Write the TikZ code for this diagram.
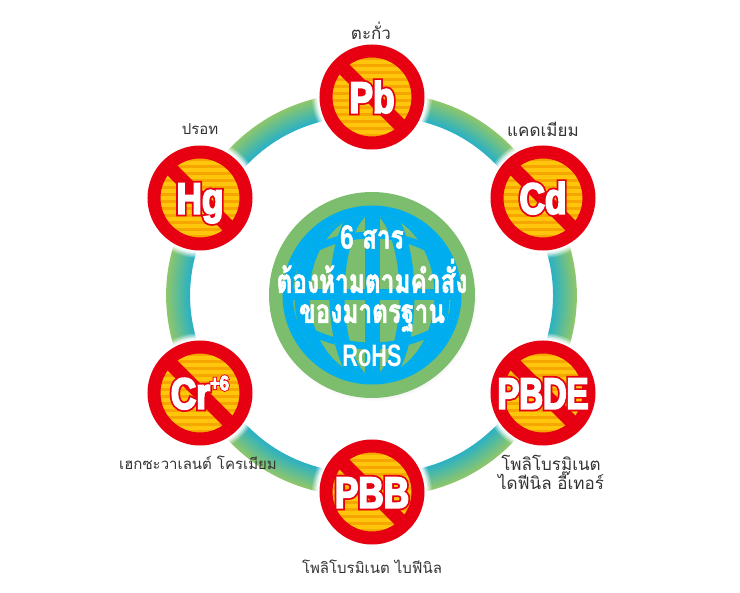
\documentclass[tikz,border=0pt]{standalone}
\usepackage{fontspec}
\usetikzlibrary{calc,shadows}
\newfontfamily\thaifont[Script=Thai]{Loma}
\newfontfamily\hubfont[Script=Thai,FakeStretch=0.74,BoldFeatures={FakeBold=1.5}]{Loma}
\newfontfamily\rohsfont[FakeStretch=0.7]{Liberation Sans}
\newfontfamily\signfont[FakeStretch=0.8,BoldFeatures={FakeBold=4}]{Liberation Sans}
\newfontfamily\signrim[FakeStretch=0.8,BoldFeatures={FakeBold=12}]{Liberation Sans}
\definecolor{banred}{HTML}{E60012}
\definecolor{banorange}{HTML}{F7A600}
\definecolor{banyellow}{HTML}{FFC60B}
\definecolor{ringgreen}{HTML}{8EC76C}
\definecolor{ringteal}{HTML}{2DB2C2}
\definecolor{globeblue}{HTML}{00AEEF}
\definecolor{globegreen}{HTML}{7DBD6E}
\definecolor{labelgrey}{HTML}{333333}
\newcommand{\signcopy}[1]{\makebox[0pt]{\raisebox{-.36em}{#1}}}
\newcommand{\rimtext}[1]{\smash{\color{banred}\signrim\bfseries\signcopy{#1}\color{white}\signfont\bfseries\signcopy{#1}}}
\tikzset{
	bansign/.style={circle,inner sep=0pt,minimum size=92,draw=banred,line width=13,
		font=\signfont\bfseries\fontsize{44}{44}\selectfont,
		preaction={draw=white,draw opacity=.2,line width=28},
		preaction={draw=white,draw opacity=.3,line width=25},
		preaction={draw=white,draw opacity=.45,line width=22},
		preaction={draw=white,draw opacity=.65,line width=19},
		preaction={draw=white,line width=16},
		path picture={
			\fill[banorange] (path picture bounding box.center) circle (50);
			\foreach \k in {-6,...,6}
				\fill[banyellow] ($(path picture bounding box.center)+(-50,\k*7-1.8)$) rectangle ++(100,3.6);
			\draw[banred,line width=14] ($(path picture bounding box.center)+(-45,-45)$) -- ($(path picture bounding box.center)+(45,45)$);
		}},
	ringline/.style={line width=1.7,bend left=30},
	gridline/.style={draw=globeblue,line width=15},
	latline/.style={draw=globeblue,line width=7},
	hubline/.style={text=white,font=\hubfont\bfseries\fontsize{33}{33}\selectfont,inner sep=0pt},
	sublabel/.style={text=labelgrey,font=\thaifont\fontsize{15}{18}\selectfont,align=center,inner sep=0pt},
	biglabel/.style={sublabel,font=\thaifont\fontsize{17}{19}\selectfont}
}
\pgfdeclarelayer{bg}
\pgfsetlayers{bg,main}
\begin{document}
\begin{tikzpicture}[x=1pt,y=-1pt]
	\useasboundingbox (0,0) rectangle (740,593);
	\coordinate (ring) at (372,295);
	\node[bansign] (pb) at (372,97) {\rimtext{Pb}};
	\node[bansign] (cd) at (543,198) {\rimtext{Cd}};
	\node[bansign] (pbde) at (543,393) {\rimtext{\scalebox{.93}[1]{PBDE}}};
	\node[bansign] (pbb) at (372,492) {\rimtext{PBB}};
	\node[bansign] (cr) at (200,393) {\rimtext{Cr\raisebox{.42em}{\fontsize{21}{21}\selectfont+6}}};
	\node[bansign] (hg) at (200,198) {\rimtext{Hg}};
	\begin{pgfonlayer}{bg}
	\foreach \a/\b in {pb/cd,cd/pbde,pbde/pbb,pbb/cr,cr/hg,hg/pb}
		\foreach \s in {0,...,22} {
			\pgfmathsetmacro{\t}{(\s-4.5)/198}
			\pgfmathtruncatemacro{\pct}{\s*100/22}
			\draw[ringline,draw=ringteal!\pct!ringgreen] ($(\a)!\t!(ring)$) to ($(\b)!\t!(ring)$);
		}
	\end{pgfonlayer}
	\node[circle,inner sep=0pt,minimum size=206,fill=globegreen,
		circular drop shadow={shadow xshift=1pt,shadow yshift=-2pt,opacity=.35,shadow scale=1.01},
		path picture={
			\fill[globeblue] (ring) circle (89.5);
			\begin{scope}
				\clip (ring) circle (79);
				\fill[globegreen] (ring) circle (79);
				\draw[gridline] (ring) ellipse (0 and 89);
				\draw[gridline] (ring) ellipse (35 and 89);
				\draw[gridline] (ring) ellipse (70 and 89);
				\draw[gridline,line width=11] ($(ring)+(-90,0)$) -- ($(ring)+(90,0)$);
				\draw[latline] ($(ring)+(0,65)$) circle (125);
				\draw[latline] ($(ring)+(0,-88)$) circle (139);
			\end{scope}
		}] (hub) at (372,295) {};
	\node[hubline] (line1) at (372,237) {6 สาร};
	\node[hubline] (line2) at (372,276) {ต้องห้ามตามคำสั่ง};
	\node[hubline] (line3) at (372,318) {ของมาตรฐาน};
	\node[hubline,font=\rohsfont\bfseries\fontsize{31}{31}\selectfont] (line4) at (372,356) {RoHS};
	\node[biglabel] (pbname) at (371,31) {ตะกั่ว};
	\node[biglabel] (cdname) at (543,129) {แคดเมียม};
	\node[sublabel] (hgname) at (200,129) {ปรอท};
	\node[sublabel] (crname) at (198,463) {เฮกซะวาเลนต์ โครเมียม};
	\node[biglabel] (pbdename) at (551,472) {โพลิโบรมิเนต\\ไดฟีนิล อี๊เทอร์};
	\node[sublabel] (pbbname) at (372,567) {โพลิโบรมิเนต ไบฟีนิล};
\end{tikzpicture}
\end{document}
